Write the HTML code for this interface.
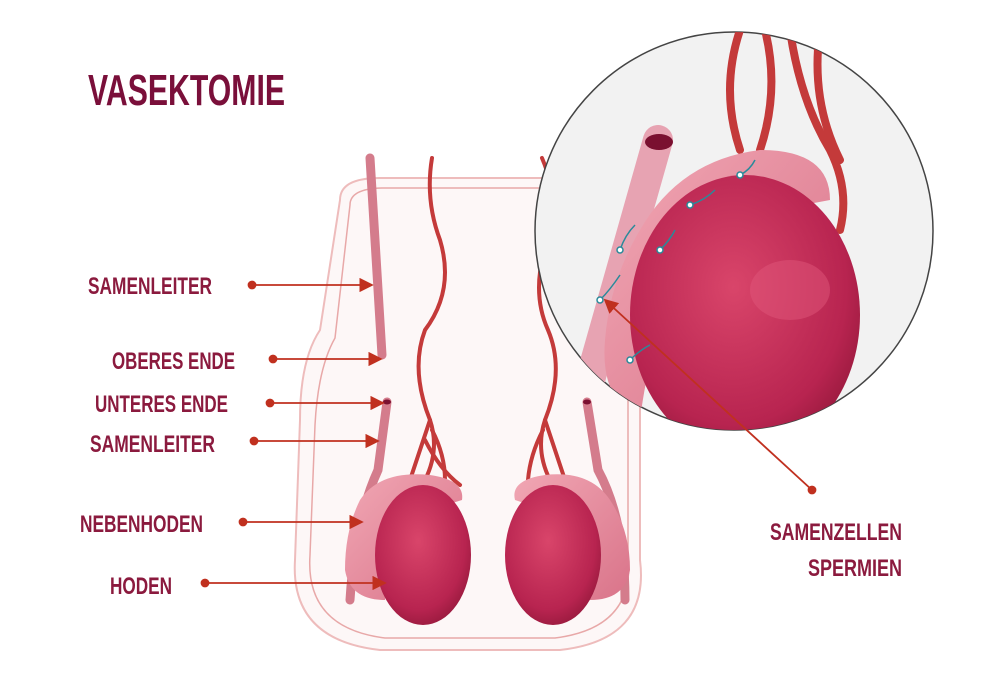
<!DOCTYPE html>
<html><head><meta charset="utf-8"><style>
html,body{margin:0;padding:0;background:#fff;}
svg{display:block}
.t{font-family:"Liberation Sans",sans-serif;font-weight:bold;fill:#8b1a3e;}
</style></head><body>
<svg width="1000" height="683" viewBox="0 0 1000 683" xmlns="http://www.w3.org/2000/svg">
<defs>
<radialGradient id="ts" cx="0.45" cy="0.4" r="0.7"><stop offset="0" stop-color="#d9456a"/><stop offset="0.7" stop-color="#b82450"/><stop offset="1" stop-color="#8a1535"/></radialGradient>
<linearGradient id="ep" x1="0" y1="0" x2="1" y2="1"><stop offset="0" stop-color="#f1a7b4"/><stop offset="1" stop-color="#d97389"/></linearGradient>
<clipPath id="cc"><circle cx="734" cy="231" r="199"/></clipPath>
<marker id="ah" markerWidth="8" markerHeight="8" refX="7" refY="4" orient="auto"><path d="M0,0 L8,4 L0,8 z" fill="#c0301f"/></marker>
</defs>
<text class="t" x="88" y="105" font-size="44" textLength="197" lengthAdjust="spacingAndGlyphs" style="fill:#7a0f3a">VASEKTOMIE</text>
<path d="M340,200 Q340,178 380,178 L600,178 Q640,178 640,205 L640,560 Q650,640 560,650 L380,650 Q290,640 295,560 L300,420 Q300,360 320,330 Z" fill="#fdf7f7" stroke="#eebcbc" stroke-width="2"/>
<path d="M350,205 Q350,188 385,188 L600,188 Q628,188 628,210 L628,555 Q636,628 555,638 L385,638 Q305,628 310,555 L315,425 Q318,368 335,338 Z" fill="none" stroke="#e8a8a8" stroke-width="1.5"/>
<g fill="none" stroke="#c43a3a" stroke-width="4" stroke-linecap="round">
<path d="M432,158 Q425,200 440,240 Q455,290 425,330 Q410,370 430,420 Q440,450 425,480"/>
<path d="M430,420 Q420,450 410,480"/><path d="M432,430 Q445,455 445,480"/><path d="M425,440 Q440,470 460,485"/>
<path d="M542,158 Q560,200 548,240 Q530,290 548,330 Q565,370 545,420 Q535,450 550,480"/>
<path d="M545,420 Q555,450 565,480"/><path d="M543,430 Q530,455 528,480"/>
</g>
<path d="M370,158 L382,355" stroke="#d47c8c" stroke-width="9" stroke-linecap="round"/>
<path d="M387,402 L378,470 Q355,520 350,600" stroke="#d47c8c" stroke-width="9" fill="none" stroke-linecap="round"/>
<path d="M587,402 L598,470 Q625,520 625,600" stroke="#d47c8c" stroke-width="9" fill="none" stroke-linecap="round"/>
<ellipse cx="387" cy="402" rx="4" ry="2.5" fill="#7a1030"/><ellipse cx="587" cy="402" rx="4" ry="2.5" fill="#7a1030"/>
<path d="M360,500 Q380,470 430,475 Q465,480 462,500 L430,510 Q390,540 385,600 Q350,600 345,570 Q345,530 360,500Z" fill="url(#ep)"/>
<ellipse cx="423" cy="555" rx="48" ry="70" fill="url(#ts)"/>
<path d="M610,500 Q590,470 545,475 Q510,480 515,500 L545,510 Q585,540 590,600 Q625,600 630,570 Q630,530 610,500Z" fill="url(#ep)"/>
<ellipse cx="553" cy="555" rx="48" ry="70" fill="url(#ts)"/>
<circle cx="734" cy="231" r="199" fill="#f2f2f2" stroke="#444" stroke-width="1.5"/>
<g clip-path="url(#cc)">
<g fill="none" stroke="#c43a3a" stroke-width="8" stroke-linecap="round">
<path d="M740,30 Q720,90 740,150"/><path d="M765,30 Q780,90 760,150"/><path d="M790,30 Q800,100 830,150 Q850,190 840,230"/><path d="M820,30 Q810,100 840,160"/>
</g>
<path d="M658,140 L590,380" stroke="#e7a3b2" stroke-width="30" stroke-linecap="round"/>
<ellipse cx="659" cy="142" rx="14" ry="8" fill="#7a1030"/>
<path d="M640,230 Q680,160 760,150 Q830,150 830,200 L750,215 Q660,260 640,420 Q600,400 605,340 Q610,280 640,230Z" fill="url(#ep)"/>
<ellipse cx="745" cy="315" rx="115" ry="140" fill="url(#ts)"/>
<ellipse cx="790" cy="290" rx="40" ry="30" fill="#e0557a" opacity="0.5"/>
<g stroke="#2a8a9a" stroke-width="1.5" fill="#fff">
<path d="M600,300 q10,-10 20,-25" fill="none"/><circle cx="600" cy="300" r="3"/>
<path d="M620,250 q5,-15 15,-25" fill="none"/><circle cx="620" cy="250" r="3"/>
<path d="M690,205 q15,-5 25,-15" fill="none"/><circle cx="690" cy="205" r="3"/>
<path d="M740,175 q10,-5 15,-15" fill="none"/><circle cx="740" cy="175" r="3"/>
<path d="M660,250 q10,-10 15,-20" fill="none"/><circle cx="660" cy="250" r="3"/>
<path d="M630,360 q10,-10 20,-15" fill="none"/><circle cx="630" cy="360" r="3"/>
</g>
</g>
<g stroke="#c0301f" stroke-width="1.8" fill="#c0301f">
<line x1="252" y1="285" x2="372" y2="285" marker-end="url(#ah)"/><circle cx="252" cy="285" r="3.5"/>
<line x1="273" y1="359" x2="381" y2="359" marker-end="url(#ah)"/><circle cx="273" cy="359" r="3.5"/>
<line x1="270" y1="403" x2="383" y2="403" marker-end="url(#ah)"/><circle cx="270" cy="403" r="3.5"/>
<line x1="254" y1="441" x2="378" y2="441" marker-end="url(#ah)"/><circle cx="254" cy="441" r="3.5"/>
<line x1="243" y1="522" x2="362" y2="522" marker-end="url(#ah)"/><circle cx="243" cy="522" r="3.5"/>
<line x1="205" y1="583" x2="385" y2="583" marker-end="url(#ah)"/><circle cx="205" cy="583" r="3.5"/>
<line x1="812" y1="490" x2="605" y2="300" marker-end="url(#ah)"/><circle cx="812" cy="490" r="3.5"/>
</g>
<g class="t" font-size="24">
<text x="88" y="294" textLength="124" lengthAdjust="spacingAndGlyphs">SAMENLEITER</text>
<text x="112" y="369" textLength="123" lengthAdjust="spacingAndGlyphs">OBERES ENDE</text>
<text x="95" y="412" textLength="133" lengthAdjust="spacingAndGlyphs">UNTERES ENDE</text>
<text x="90" y="452" textLength="125" lengthAdjust="spacingAndGlyphs">SAMENLEITER</text>
<text x="80" y="532" textLength="123" lengthAdjust="spacingAndGlyphs">NEBENHODEN</text>
<text x="110" y="594" textLength="62" lengthAdjust="spacingAndGlyphs">HODEN</text>
<text x="770" y="540" textLength="132" lengthAdjust="spacingAndGlyphs">SAMENZELLEN</text>
<text x="808" y="576" textLength="94" lengthAdjust="spacingAndGlyphs">SPERMIEN</text>
</g>
</svg>
</body></html>
